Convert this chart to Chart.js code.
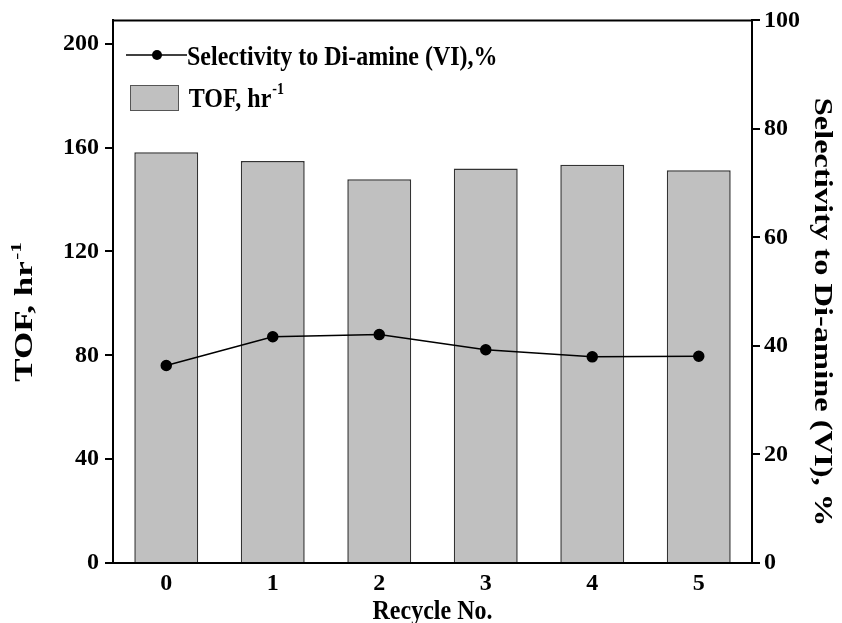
<!DOCTYPE html>
<html lang="en">
<head>
  <meta charset="UTF-8">
  <title>TOF and Selectivity vs Recycle No.</title>
  <script src="https://cdn.jsdelivr.net/npm/chart.js"></script>
  <style>
    body { margin: 0; background: #fff; }
    canvas { display: block; }
  </style>
</head>
<body>
  <canvas id="recycleChart" width="842" height="623"></canvas>

  <script>
    const recycleNo = ['0', '1', '2', '3', '4', '5'];
    const tofValues = [158.2, 154.8, 147.8, 152.0, 153.4, 151.3];
    const selectivityValues = [36.4, 41.7, 42.1, 39.3, 38.0, 38.1];
    const tofTicks = [0, 40, 80, 120, 160, 200];
    const selTicks = [0, 20, 40, 60, 80, 100];

    const serif = "'Liberation Serif', 'Times New Roman', serif";
    const barGray = '#c0c0c0';

    // text in the original looks stretched a bit in height, so scale it
    function drawSup(ctx, text, sup, size) {
      ctx.font = 'bold ' + size + 'px ' + serif;
      ctx.textAlign = 'left';
      ctx.textBaseline = 'alphabetic';
      const tw = ctx.measureText(text).width;
      ctx.font = 'bold ' + Math.round(size * 0.6) + 'px ' + serif;
      const sw = ctx.measureText(sup).width;
      const x0 = -(tw + sw + 1) / 2;
      ctx.font = 'bold ' + size + 'px ' + serif;
      ctx.fillText(text, x0, 0);
      ctx.font = 'bold ' + Math.round(size * 0.6) + 'px ' + serif;
      ctx.fillText(sup, x0 + tw + 1, -size * 0.45);
    }

    const extras = {
      id: 'extras',
      afterDraw(chart) {
        const ctx = chart.ctx;
        const a = chart.chartArea;
        ctx.save();

        // top border of the frame
        ctx.strokeStyle = '#000';
        ctx.lineWidth = 2;
        ctx.beginPath();
        ctx.moveTo(a.left - 1, a.top);
        ctx.lineTo(a.right + 1, a.top);
        ctx.stroke();

        // legend: line + marker
        ctx.lineWidth = 1.5;
        ctx.beginPath();
        ctx.moveTo(126, 55);
        ctx.lineTo(187, 55);
        ctx.stroke();
        ctx.fillStyle = '#000';
        ctx.beginPath();
        ctx.arc(157, 55, 5, 0, Math.PI * 2);
        ctx.fill();

        ctx.save();
        ctx.translate(187, 65);
        ctx.scale(1, 1.18);
        ctx.font = 'bold 24px ' + serif;
        ctx.textAlign = 'left';
        ctx.textBaseline = 'alphabetic';
        ctx.fillText('Selectivity to Di-amine (VI),%', 0, 0);
        ctx.restore();

        // legend: bar box
        ctx.fillStyle = barGray;
        ctx.fillRect(130, 85, 48, 25);
        ctx.strokeStyle = '#555';
        ctx.lineWidth = 1;
        ctx.strokeRect(130.5, 85.5, 48, 25);
        ctx.fillStyle = '#000';
        ctx.save();
        ctx.font = 'bold 24px ' + serif;
        const lw = ctx.measureText('TOF, hr').width + 16;
        ctx.translate(187 + lw / 2, 107);
        ctx.scale(1, 1.18);
        drawSup(ctx, 'TOF, hr', '-1', 24);
        ctx.restore();

        // left axis title
        ctx.save();
        ctx.translate(32, 312);
        ctx.rotate(-Math.PI / 2);
        ctx.scale(1.4, 1);
        drawSup(ctx, 'TOF, hr', '-1', 25);
        ctx.restore();

        // right axis title
        ctx.save();
        ctx.translate(822, 312);
        ctx.rotate(Math.PI / 2);
        ctx.scale(1.25, 1);
        ctx.font = 'bold 26px ' + serif;
        ctx.textAlign = 'center';
        ctx.textBaseline = 'middle';
        ctx.fillText('Selectivity to Di-amine (VI), %', 0, 0);
        ctx.restore();

        // x axis title
        ctx.save();
        ctx.translate((a.left + a.right) / 2, 619);
        ctx.scale(1, 1.15);
        ctx.font = 'bold 24px ' + serif;
        ctx.textAlign = 'center';
        ctx.textBaseline = 'alphabetic';
        ctx.fillText('Recycle No.', 0, 0);
        ctx.restore();

        ctx.restore();
      }
    };

    const tickFont = { family: serif, weight: 'bold', size: 24 };

    new Chart(document.getElementById('recycleChart'), {
      data: {
        labels: recycleNo,
        datasets: [
          {
            type: 'line',
            label: 'Selectivity to Di-amine (VI),%',
            data: selectivityValues,
            yAxisID: 'y1',
            borderColor: '#000',
            borderWidth: 1.5,
            pointBackgroundColor: '#000',
            pointBorderColor: '#000',
            pointRadius: 5,
            tension: 0,
            order: 0
          },
          {
            type: 'bar',
            label: 'TOF, hr-1',
            data: tofValues,
            yAxisID: 'y',
            backgroundColor: barGray,
            borderColor: '#333',
            borderWidth: 1.5,
            barPercentage: 0.6,
            categoryPercentage: 1,
            order: 1
          }
        ]
      },
      options: {
        responsive: false,
        animation: false,
        layout: { padding: { top: 20, left: 0, right: 0, bottom: 0 } },
        plugins: { legend: { display: false }, tooltip: { enabled: false } },
        scales: {
          x: {
            offset: true,
            grid: { display: false },
            border: { display: true, color: '#000', width: 2 },
            ticks: { color: '#000', font: tickFont, padding: -2 },
            afterFit(s) { s.height = 60; }
          },
          y: {
            position: 'left',
            min: 0,
            max: 209,
            afterBuildTicks(s) { s.ticks = tofTicks.map(v => ({ value: v })); },
            grid: { drawOnChartArea: false, drawTicks: true, tickLength: 8, color: '#000', lineWidth: 2 },
            border: { display: true, color: '#000', width: 2 },
            ticks: { color: '#000', font: tickFont, padding: 6 },
            afterFit(s) { s.width = 113; }
          },
          y1: {
            position: 'right',
            min: 0,
            max: 100,
            afterBuildTicks(s) { s.ticks = selTicks.map(v => ({ value: v })); },
            grid: { drawOnChartArea: false, drawTicks: true, tickLength: 8, color: '#000', lineWidth: 2 },
            border: { display: true, color: '#000', width: 2 },
            ticks: { color: '#000', font: tickFont, padding: 4 },
            afterFit(s) { s.width = 90; }
          }
        }
      },
      plugins: [extras]
    });
  </script>
</body>
</html>
